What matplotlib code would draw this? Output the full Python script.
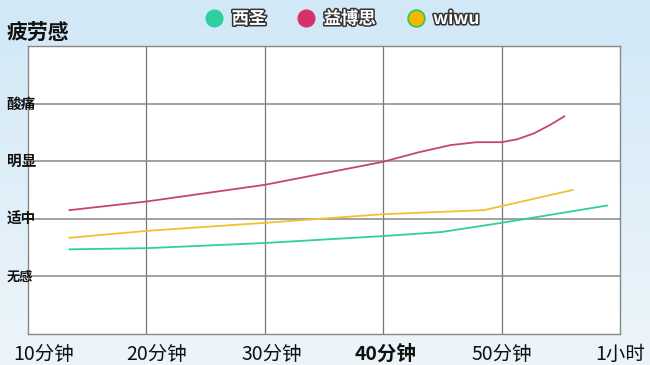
import numpy as np
import matplotlib.pyplot as plt
import matplotlib.patheffects as pe
from matplotlib.lines import Line2D

plt.rcParams['font.family'] = ['Noto Sans CJK SC', 'DejaVu Sans']

#%% datos
niveles = ['无感', '适中', '明显', '酸痛']
nivel_vals = [1, 2, 3, 4]
x_ticks = [10, 20, 30, 40, 50, 60]
x_labels = ['10分钟', '20分钟', '30分钟', '40分钟', '50分钟', '1小时']
x_label_pos = [11.3, 20.9, 30.6, 40.2, 50.0, 60.0]

t_xisheng = [13.5, 20, 30, 40, 44.9, 50, 58.9]
y_xisheng = [1.47, 1.49, 1.58, 1.70, 1.77, 1.93, 2.23]

t_yiboshi = [13.5, 20, 30, 40, 42.9, 45.7, 47.9, 50, 51.3, 52.7, 54.1, 55.3]
y_yiboshi = [2.15, 2.30, 2.59, 2.99, 3.15, 3.28, 3.33, 3.33, 3.38, 3.48, 3.63, 3.78]

t_wiwu = [13.5, 20, 30, 40, 48.5, 56]
y_wiwu = [1.67, 1.79, 1.93, 2.08, 2.15, 2.50]

c_verde = '#2fcf9e'
c_rosa = '#c6437a'
c_amarillo = '#f0c232'

#%% figura
fig = plt.figure(figsize=(6.5, 3.65), dpi=100)

# fondo degradado celeste
bg = fig.add_axes([0, 0, 1, 1], zorder=-10)
grad = np.linspace(0, 1, 256).reshape(-1, 1)
top = np.array([0.82, 0.91, 0.97])
bot = np.array([0.93, 0.96, 0.98])
img = top[None, None, :] * (1 - grad[:, :, None]) + bot[None, None, :] * grad[:, :, None]
bg.imshow(img, aspect='auto', extent=[0, 1, 0, 1])
bg.axis('off')

ax = fig.add_axes([28/650, 31/365, 592/650, 288/365])
ax.set_facecolor('white')
ax.set_xlim(10, 60)
ax.set_ylim(0, 5)

ax.plot(t_xisheng, y_xisheng, color=c_verde, lw=1.3)
ax.plot(t_yiboshi, y_yiboshi, color=c_rosa, lw=1.3)
ax.plot(t_wiwu, y_wiwu, color=c_amarillo, lw=1.3)

for xv in x_ticks[1:-1]:
    ax.axvline(xv, color='#777777', lw=0.9, zorder=0)
for yv in nivel_vals:
    ax.axhline(yv, color='#888888', lw=1.1, zorder=0)
for s in ax.spines.values():
    s.set_color('#888888')
    s.set_linewidth(1.0)

ax.set_xticks([])
ax.set_yticks([])

# etiquetas eje y
for yv, lab in zip(nivel_vals, niveles):
    fs = 9.5 if lab == '无感' else 10.5
    ax.text(-0.036, yv / 5, lab, transform=ax.transAxes, ha='left', va='center',
            fontsize=fs, fontweight='bold', color='#111111')

# etiquetas eje x
for xp, lab in zip(x_label_pos, x_labels):
    ax.text(xp, -0.35, lab, ha='center', va='center', fontsize=14,
            fontweight='heavy' if lab == '40分钟' else 'medium', color='#111111')

fig.text(7/650, 1 - 32/365, '疲劳感', ha='left', va='center', fontsize=15,
         fontweight='bold', color='#111111')

handles = [
    Line2D([], [], ls='none', marker='o', ms=12, color=c_verde, mec=c_verde),
    Line2D([], [], ls='none', marker='o', ms=12, color='#d63267', mec='#d63267'),
    Line2D([], [], ls='none', marker='o', ms=12, color='#f5b800', mec='#3cc35a', mew=1.3),
]
leg = fig.legend(handles, ['西圣', '益博思', 'wiwu'], ncol=3, loc='center',
                 bbox_to_anchor=(0.527, 1 - 19/365), frameon=False, fontsize=12.5,
                 handletextpad=0.5, columnspacing=1.8, handlelength=1.0)
for txt in leg.get_texts():
    txt.set_color('white')
    txt.set_fontweight('bold')
    txt.set_path_effects([pe.withStroke(linewidth=2.2, foreground='#333333')])

plt.savefig('out.png', dpi=100)
